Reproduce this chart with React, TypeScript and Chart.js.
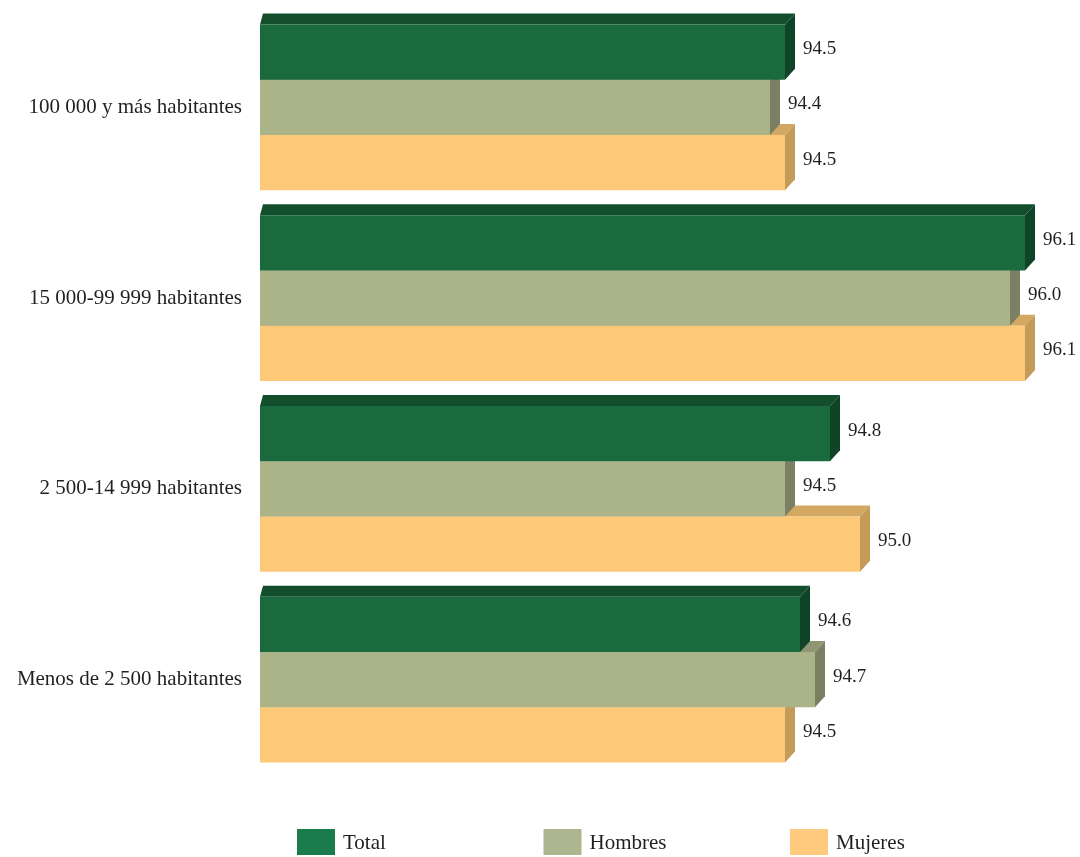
import React, { useEffect, useRef } from "react";
import { Chart, registerables } from "chart.js";

Chart.register(...registerables);

const categories = [
  "100 000 y más habitantes",
  "15 000-99 999 habitantes",
  "2 500-14 999 habitantes",
  "Menos de 2 500 habitantes",
];
const seriesNames = ["Total", "Hombres", "Mujeres"];
const totalValues = [94.5, 96.1, 94.8, 94.6];
const hombresValues = [94.4, 96.0, 94.5, 94.7];
const mujeresValues = [94.5, 96.1, 95.0, 94.5];

const frontColors = ["#1b6a3e", "#abb489", "#fdc979"];
const topColors = ["#134e2c", "#8f9672", "#d2a862"];
const sideColors = ["#0f4426", "#7b8063", "#c49b58"];
const legendColors = ["#1a7b4c", "#adb78f", "#ffc97e"];

const FONT = "'Liberation Serif', 'DejaVu Serif', serif";
const DX = 10;
const DY = 11;

const depthPlugin = {
  id: "depth3d",
  beforeDatasetsDraw(chart: any) {
    const ctx = chart.ctx;
    const n = chart.data.datasets.length;
    const left = chart.chartArea.left;
    ctx.save();
    for (let d = n - 1; d >= 0; d--) {
      const meta = chart.getDatasetMeta(d);
      meta.data.forEach((bar: any) => {
        const { x, y, base, height } = bar.getProps(["x", "y", "base", "height"], true);
        const start = Math.max(base, left);
        const top = y - height / 2;
        const bottom = y + height / 2;
        // top face
        ctx.fillStyle = topColors[d];
        ctx.beginPath();
        ctx.moveTo(start, top);
        ctx.lineTo(start + 3, top - DY);
        ctx.lineTo(x + DX, top - DY);
        ctx.lineTo(x, top);
        ctx.closePath();
        ctx.fill();
        // side face
        ctx.fillStyle = sideColors[d];
        ctx.beginPath();
        ctx.moveTo(x, top);
        ctx.lineTo(x + DX, top - DY);
        ctx.lineTo(x + DX, bottom - DY);
        ctx.lineTo(x, bottom);
        ctx.closePath();
        ctx.fill();
      });
    }
    ctx.restore();
  },
  afterDatasetsDraw(chart: any) {
    const ctx = chart.ctx;
    ctx.save();
    ctx.font = `19px ${FONT}`;
    ctx.fillStyle = "#231f20";
    ctx.textAlign = "left";
    ctx.textBaseline = "middle";
    chart.data.datasets.forEach((ds: any, d: number) => {
      const meta = chart.getDatasetMeta(d);
      meta.data.forEach((bar: any, i: number) => {
        const { x, y } = bar.getProps(["x", "y"], true);
        ctx.fillText(ds.data[i].toFixed(1), x + DX + 8, y - 3);
      });
    });
    ctx.restore();
  },
  afterDraw(chart: any) {
    const ctx = chart.ctx;
    ctx.save();
    ctx.font = `21px ${FONT}`;
    ctx.textBaseline = "middle";
    const startX = 297;
    const step = 246.5;
    const cy = 842;
    seriesNames.forEach((name, i) => {
      const bx = startX + i * step;
      ctx.fillStyle = legendColors[i];
      ctx.fillRect(bx, cy - 13, 38, 26);
      ctx.fillStyle = "#231f20";
      ctx.fillText(name, bx + 46, cy + 1);
    });
    ctx.restore();
  },
};

export default function App() {
  const ref = useRef<HTMLCanvasElement>(null);
  useEffect(() => {
    if (!ref.current) return;
    const chart = new Chart(ref.current, {
      type: "bar",
      data: {
        labels: categories,
        datasets: [
          { label: seriesNames[0], data: totalValues, backgroundColor: frontColors[0] },
          { label: seriesNames[1], data: hombresValues, backgroundColor: frontColors[1] },
          { label: seriesNames[2], data: mujeresValues, backgroundColor: frontColors[2] },
        ],
      },
      options: {
        indexAxis: "y",
        animation: false,
        responsive: false,
        maintainAspectRatio: false,
        layout: { padding: { top: 12, bottom: 82, left: 0, right: 10 } },
        datasets: {
          bar: { categoryPercentage: 165 / 190, barPercentage: 1, borderWidth: 0 },
        },
        plugins: {
          legend: { display: false },
          tooltip: { enabled: false },
        },
        scales: {
          x: { min: 91, max: 96.4, display: false },
          y: {
            grid: { display: false, drawTicks: false },
            border: { display: false },
            ticks: {
              padding: 18,
              color: "#231f20",
              font: { family: FONT, size: 21 },
            },
            afterFit(scale: any) {
              scale.width = 260;
              scale.paddingTop = 0;
              scale.paddingBottom = 0;
            },
          },
        },
      },
      plugins: [depthPlugin],
    });
    return () => chart.destroy();
  }, []);
  return (
    <div style={{ position: "fixed", left: 0, top: 0, width: 1080, height: 857, background: "#fff" }}>
      <canvas ref={ref} width={1080} height={857} style={{ display: "block" }} />
    </div>
  );
}
